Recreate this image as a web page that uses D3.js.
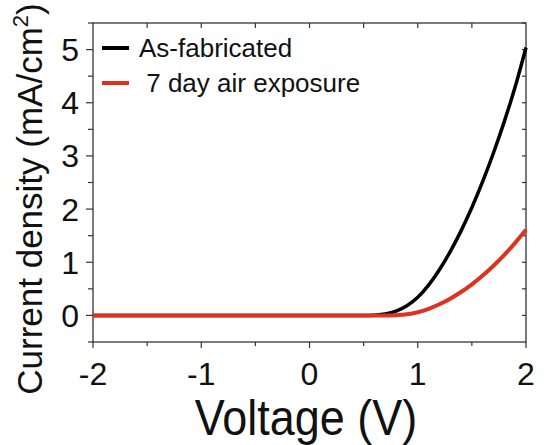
<!DOCTYPE html>
<html><head><meta charset="utf-8">
<script src="https://cdn.jsdelivr.net/npm/d3@7"></script>
<style>body{margin:0;background:#fff}svg{display:block}text{font-family:"Liberation Sans",Arial,sans-serif;fill:#111}</style>
</head><body>
<svg id="c" width="553" height="445"></svg>
<script>
const voltage = [-2, -1.5, -1, -0.5, 0, 0.5, 0.6, 0.7, 0.8, 0.9, 1.0, 1.1, 1.2, 1.3, 1.4, 1.5, 1.6, 1.7, 1.8, 1.9, 2.0];
const asFabricated = [0, 0, 0, 0, 0, 0, 0.005, 0.025, 0.08, 0.18, 0.34, 0.57, 0.86, 1.20, 1.59, 2.03, 2.52, 3.06, 3.65, 4.30, 5.04];
const airExposure = [0, 0, 0, 0, 0, 0, 0, 0, 0.005, 0.02, 0.06, 0.125, 0.21, 0.315, 0.44, 0.585, 0.75, 0.935, 1.14, 1.365, 1.61];
const xTicks = [-2, -1, 0, 1, 2];
const yTicks = [0, 1, 2, 3, 4, 5];
const seriesNames = ["As-fabricated", " 7 day air exposure"];
const seriesColors = ["#000000", "#e0301e"];

const svg = d3.select("#c");
const L = 93, R = 526, T = 23, B = 342;
const x = d3.scaleLinear().domain([-2, 2]).range([L, R]);
const y = d3.scaleLinear().domain([-0.5, 5.5]).range([B, T]);

const axisColor = "#333";
svg.append("g").selectAll("line").data(d3.range(-2, 2.01, 0.5)).join("line")
  .attr("x1", d => x(d)).attr("x2", d => x(d)).attr("y1", B)
  .attr("y2", (d, i) => B + (i % 2 === 0 ? 6 : 4)).attr("stroke", axisColor).attr("stroke-width", 1.2);
svg.append("g").selectAll("line").data(d3.range(-1.5, 2, 0.5)).join("line")
  .attr("x1", d => x(d)).attr("x2", d => x(d)).attr("y1", T)
  .attr("y2", T + 5).attr("stroke", axisColor).attr("stroke-width", 1.2);
svg.append("g").selectAll("text").data(xTicks).join("text")
  .attr("x", d => x(d)).attr("y", 385).attr("text-anchor", "middle")
  .attr("font-size", 32).text(d => d);

svg.append("g").selectAll("line").data(d3.range(-0.5, 5.51, 0.5)).join("line")
  .attr("y1", d => y(d)).attr("y2", d => y(d)).attr("x1", L)
  .attr("x2", d => L - (Number.isInteger(d) ? 7 : 5)).attr("stroke", axisColor).attr("stroke-width", 1.2);
svg.append("g").selectAll("line").data(d3.range(0, 5.51, 0.5)).join("line")
  .attr("y1", d => y(d)).attr("y2", d => y(d)).attr("x1", R)
  .attr("x2", R - 4).attr("stroke", axisColor).attr("stroke-width", 1.2);
svg.append("g").selectAll("text").data(yTicks).join("text")
  .attr("x", 79).attr("y", d => y(d) + 11.5).attr("text-anchor", "end")
  .attr("font-size", 32).text(d => d);

svg.append("rect").attr("x", L).attr("y", T).attr("width", R - L).attr("height", B - T)
  .attr("fill", "none").attr("stroke", axisColor).attr("stroke-width", 1.3);

const line = d3.line().x((d, i) => x(voltage[i])).y(d => y(d)).curve(d3.curveMonotoneX);
svg.append("path").datum(asFabricated).attr("d", line).attr("fill", "none")
  .attr("stroke", seriesColors[0]).attr("stroke-width", 3.5);
svg.append("path").datum(airExposure).attr("d", line).attr("fill", "none")
  .attr("stroke", seriesColors[1]).attr("stroke-width", 4);

const legY = [48, 83];
seriesNames.forEach((n, i) => {
  svg.append("line").attr("x1", 102).attr("x2", 129).attr("y1", legY[i]).attr("y2", legY[i])
    .attr("stroke", seriesColors[i]).attr("stroke-width", 4);
  svg.append("text").attr("x", 139).attr("y", legY[i] + 8.5).attr("font-size", 26)
    .attr("xml:space", "preserve").style("white-space", "pre").text(n);
});

svg.append("text").attr("transform", "translate(306,435) scale(1,1.12)")
  .attr("text-anchor", "middle").attr("font-size", 45).text("Voltage (V)");
const yt = svg.append("text").attr("transform", "translate(42,199) rotate(-90)")
  .attr("text-anchor", "middle").attr("font-size", 35);
yt.append("tspan").text("Current density (mA/cm");
yt.append("tspan").attr("font-size", 22).attr("dy", -14).text("2");
yt.append("tspan").attr("dy", 14).text(")");
</script>
</body></html>
